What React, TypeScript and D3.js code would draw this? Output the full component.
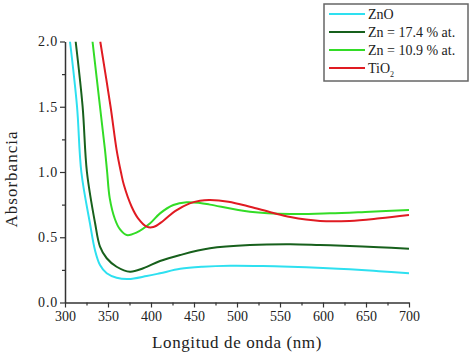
import React, { useEffect, useRef } from "react";
import * as d3 from "d3";

// wavelength (nm) / absorbance
const znoNm = [305.8, 314, 319, 329, 334.9, 340.7, 348.5, 360, 373.6, 395, 410.5, 434, 460, 492, 530, 562, 600, 631, 665, 700];
const znoAbs = [2.0, 1.5, 1.0, 0.607, 0.4, 0.287, 0.224, 0.19, 0.18, 0.203, 0.224, 0.258, 0.274, 0.282, 0.28, 0.274, 0.264, 0.254, 0.24, 0.224];

const zn174Nm = [312.4, 320.5, 325.5, 335, 340.7, 348.5, 360, 375.6, 391, 410.5, 434, 468.6, 515, 562, 596.5, 631, 665, 700];
const zn174Abs = [2.0, 1.5, 1.0, 0.607, 0.428, 0.339, 0.274, 0.236, 0.262, 0.318, 0.364, 0.415, 0.44, 0.446, 0.44, 0.433, 0.424, 0.412];

const zn109Nm = [332, 340.7, 346.5, 349, 352, 358, 364, 371.7, 383, 399, 410.5, 426, 441.5, 457, 468.6, 515, 562, 608, 655, 700];
const zn109Abs = [2.0, 1.5, 1.17, 1.0, 0.8, 0.64, 0.56, 0.517, 0.535, 0.607, 0.683, 0.747, 0.768, 0.762, 0.75, 0.696, 0.678, 0.683, 0.696, 0.709];

const tio2Nm = [341, 353, 360, 365, 368.5, 377.5, 385, 395, 402.7, 414, 428, 445, 457, 468.6, 490, 515, 540, 562, 596.5, 631, 666, 700];
const tio2Abs = [2.0, 1.5, 1.17, 1.0, 0.9, 0.734, 0.645, 0.581, 0.578, 0.625, 0.7, 0.76, 0.78, 0.785, 0.772, 0.734, 0.69, 0.655, 0.625, 0.625, 0.645, 0.67];

const seriesNames = ["ZnO", "Zn = 17.4 % at.", "Zn = 10.9 % at.", "TiO2"];
const seriesColors = ["#2ee0f0", "#17601c", "#33dc26", "#e01b22"];

const xTicks = [300, 350, 400, 450, 500, 550, 600, 650, 700];
const xMinor = [325, 375, 425, 475, 525, 575, 625, 675];
const yTicks = [0, 0.5, 1.0, 1.5, 2.0];
const yMinor = [0.25, 0.75, 1.25, 1.75];

const App = () => {
  const ref = useRef(null);

  useEffect(() => {
    document.body.style.margin = "0";
    d3.select(ref.current).selectAll("*").remove();

    const width = 472;
    const height = 354;
    const font = "'Liberation Serif', 'Times New Roman', serif";

    const svg = d3
      .select(ref.current)
      .attr("width", width)
      .attr("height", height)
      .style("display", "block")
      .style("background", "#fff");

    const x = d3.scaleLinear().domain([300, 700]).range([65, 409]);
    const y = d3.scaleLinear().domain([0, 2]).range([302.5, 41.5]);

    svg
      .append("clipPath")
      .attr("id", "plotclip")
      .append("rect")
      .attr("x", 65)
      .attr("y", 41.5)
      .attr("width", 346)
      .attr("height", 261);

    const series = [
      { nm: znoNm, abs: znoAbs },
      { nm: zn174Nm, abs: zn174Abs },
      { nm: zn109Nm, abs: zn109Abs },
      { nm: tio2Nm, abs: tio2Abs },
    ];

    const line = d3
      .line()
      .x((d) => x(d[0]))
      .y((d) => y(d[1]))
      .curve(d3.curveCatmullRom.alpha(0.5));

    const plot = svg.append("g").attr("clip-path", "url(#plotclip)");
    series.forEach((s, i) => {
      plot
        .append("path")
        .attr("d", line(s.nm.map((v, j) => [v, s.abs[j]])))
        .attr("fill", "none")
        .attr("stroke", seriesColors[i])
        .attr("stroke-width", 2);
    });

    // axes
    const xAxis = svg
      .append("g")
      .attr("transform", `translate(0,${y(0)})`)
      .call(d3.axisBottom(x).tickValues(xTicks).tickFormat(d3.format("d")).tickSize(5).tickPadding(4).tickSizeOuter(0));
    svg
      .append("g")
      .attr("transform", `translate(0,${y(0)})`)
      .call(d3.axisBottom(x).tickValues(xMinor).tickFormat(() => "").tickSize(3).tickSizeOuter(0))
      .select(".domain")
      .remove();

    const yAxis = svg
      .append("g")
      .attr("transform", `translate(${x(300)},0)`)
      .call(d3.axisLeft(y).tickValues(yTicks).tickFormat(d3.format(".1f")).tickSize(5).tickPadding(2).tickSizeOuter(0));
    svg
      .append("g")
      .attr("transform", `translate(${x(300)},0)`)
      .call(d3.axisLeft(y).tickValues(yMinor).tickFormat(() => "").tickSize(3).tickSizeOuter(0))
      .select(".domain")
      .remove();

    svg.selectAll(".domain").attr("stroke", "#333").attr("stroke-width", 1.5);
    svg.selectAll(".tick line").attr("stroke", "#333").attr("stroke-width", 1.2);
    [xAxis, yAxis].forEach((a) =>
      a.selectAll("text").style("font-family", font).style("font-size", "14px").attr("fill", "#222")
    );
    yAxis.selectAll("text").style("letter-spacing", "0.8px");

    svg
      .append("text")
      .attr("x", 237)
      .attr("y", 348)
      .attr("text-anchor", "middle")
      .style("font-family", font)
      .style("font-size", "17px")
      .style("letter-spacing", "0.6px")
      .attr("fill", "#222")
      .text("Longitud de onda (nm)");

    svg
      .append("text")
      .attr("transform", "translate(17,179) rotate(-90)")
      .attr("text-anchor", "middle")
      .style("font-family", font)
      .style("font-size", "17px")
      .style("letter-spacing", "1px")
      .attr("fill", "#222")
      .text("Absorbancia");

    // legend
    const legend = svg.append("g");
    legend
      .append("rect")
      .attr("x", 324)
      .attr("y", 4)
      .attr("width", 144)
      .attr("height", 77)
      .attr("fill", "#fff")
      .attr("stroke", "#666")
      .attr("stroke-width", 1.5);

    const rowY = d3.scalePoint().domain(seriesNames).range([14, 68]);
    seriesNames.forEach((name, i) => {
      const ry = rowY(name);
      legend
        .append("line")
        .attr("x1", 329)
        .attr("x2", 365)
        .attr("y1", ry)
        .attr("y2", ry)
        .attr("stroke", seriesColors[i])
        .attr("stroke-width", 2);
      const t = legend
        .append("text")
        .attr("x", 368)
        .attr("y", ry + 5)
        .style("font-family", font)
        .style("font-size", "14px")
        .attr("fill", "#222");
      if (name === "TiO2") {
        t.append("tspan").text("TiO");
        t.append("tspan").attr("dy", 4).style("font-size", "8px").text("2");
      } else {
        t.text(name);
      }
    });
  }, []);

  return <svg ref={ref}></svg>;
};

export default App;
